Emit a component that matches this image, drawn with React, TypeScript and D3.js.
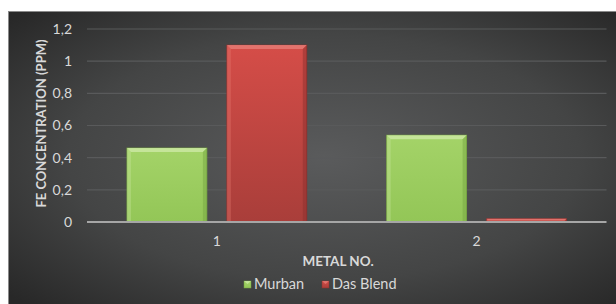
import React from "react";
import * as d3 from "d3";

const categories = ["1", "2"];
const seriesNames = ["Murban", "Das Blend"];
const murban = [0.46, 0.54];
const dasBlend = [1.1, 0.02];
const yTicks = [0, 0.2, 0.4, 0.6, 0.8, 1, 1.2];

const colors = {
  Murban: { top: "#a4d368", bottom: "#93c657", hi: "#cbe8a2", edge: "#76a542" },
  "Das Blend": { top: "#d54d48", bottom: "#a93e3a", hi: "#e57a74", edge: "#8c302d" },
};

export default function App() {
  const width = 616;
  const height = 304;
  const left = 87;
  const right = 606.5;
  const top = 29;
  const bottom = 222;

  const x = d3.scaleBand<string>().domain(categories).range([left, right]).paddingInner(80 / 260).paddingOuter(40 / 260);
  const xs = d3.scaleBand<string>().domain(seriesNames).range([0, x.bandwidth()]).paddingInner(0.2);
  const y = d3.scaleLinear().domain([0, 1.2]).range([bottom, top]);
  const fmt = (v: number) => String(v).replace(".", ",");

  const data = [murban, dasBlend];

  return (
    <svg width={width} height={height} style={{ position: "absolute", left: 0, top: 0, fontFamily: "Lato, 'Open Sans', sans-serif" }}>
      <defs>
        <radialGradient id="bg" cx="0.52" cy="0.5" r="0.7">
          <stop offset="0" stopColor="#5a5b5c" />
          <stop offset="0.6" stopColor="#444545" />
          <stop offset="1" stopColor="#282828" />
        </radialGradient>
        {seriesNames.map((s, i) => (
          <linearGradient key={s} id={"g" + i} x1="0" y1="0" x2="0" y2="1">
            <stop offset="0" stopColor={colors[s as keyof typeof colors].top} />
            <stop offset="1" stopColor={colors[s as keyof typeof colors].bottom} />
          </linearGradient>
        ))}
      </defs>
      <rect x={8} y={11} width={width - 8} height={height - 11} fill="url(#bg)" />
      <line x1={8} y1={11.5} x2={width} y2={11.5} stroke="#8a8a8a" />
      <line x1={8.5} y1={11} x2={8.5} y2={height} stroke="#8a8a8a" />

      {yTicks.map((t) => (
        <g key={t}>
          {t > 0 && <line x1={left} x2={right} y1={y(t)} y2={y(t)} stroke="#595a5b" strokeWidth={1.2} />}
          <text x={72} y={y(t)} dy="0.35em" textAnchor="end" fill="#d9d9d9" fontSize={14}>{fmt(t)}</text>
        </g>
      ))}

      {categories.map((c, ci) =>
        seriesNames.map((s, si) => {
          const v = data[si][ci];
          const bx = (x(c) as number) + (xs(s) as number);
          const bw = xs.bandwidth();
          const by = y(v);
          const bh = bottom - by;
          const col = colors[s as keyof typeof colors];
          const b = Math.min(4, bh / 2);
          return (
            <g key={c + s}>
              <rect x={bx} y={by} width={bw} height={bh} fill={`url(#g${si})`} stroke={col.edge} strokeWidth={0.8} />
              <polygon points={`${bx},${by} ${bx + bw},${by} ${bx + bw - b},${by + b} ${bx + b},${by + b}`} fill={col.hi} opacity={0.85} />
              <polygon points={`${bx},${by} ${bx + b},${by + b} ${bx + b},${by + bh} ${bx},${by + bh}`} fill={col.hi} opacity={0.35} />
              <polygon points={`${bx + bw},${by} ${bx + bw - b},${by + b} ${bx + bw - b},${by + bh} ${bx + bw},${by + bh}`} fill={col.edge} opacity={0.5} />
            </g>
          );
        })
      )}

      <line x1={left} x2={right} y1={bottom} y2={bottom} stroke="#a6a6a6" strokeWidth={2} />

      {categories.map((c) => (
        <text key={c} x={(x(c) as number) + x.bandwidth() / 2} y={246} textAnchor="middle" fill="#d9d9d9" fontSize={14}>{c}</text>
      ))}

      <text x={338} y={266} textAnchor="middle" fill="#d9d9d9" fontSize={13.5} fontWeight="bold">METAL NO.</text>
      <text transform={`translate(46,${(top + bottom) / 2 - 2}) rotate(-90)`} textAnchor="middle" fill="#d9d9d9" fontSize={13} fontWeight="bold">FE CONCENTRATION (PPM)</text>

      {seriesNames.map((s, i) => {
        const lx = i === 0 ? 244 : 322;
        const col = colors[s as keyof typeof colors];
        return (
          <g key={s}>
            <rect x={lx} y={281} width={7} height={7} fill={`url(#g${i})`} stroke={col.edge} strokeWidth={0.5} />
            <polygon points={`${lx},281 ${lx + 7},281 ${lx + 3.5},284`} fill={col.hi} opacity={0.8} />
            <text x={lx + 10} y={288.5} fill="#d9d9d9" fontSize={14.5}>{s}</text>
          </g>
        );
      })}
    </svg>
  );
}
